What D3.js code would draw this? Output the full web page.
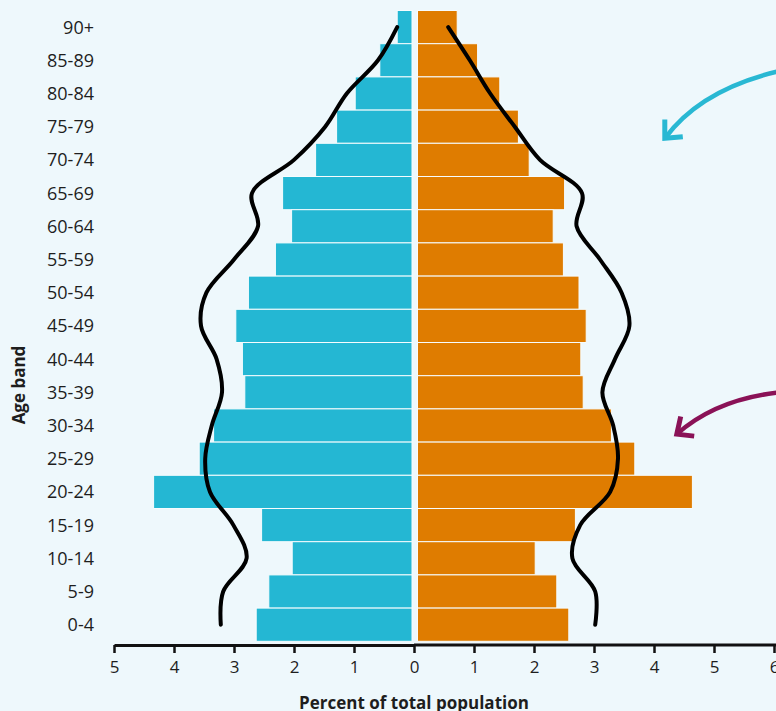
<!DOCTYPE html>
<html>
<head>
<meta charset="utf-8">
<script src="https://cdn.jsdelivr.net/npm/d3@7"></script>
<style>
  html, body { margin: 0; padding: 0; background: #eef8fc; }
  svg { display: block; }
  text { font-family: "Open Sans", "Noto Sans", sans-serif; fill: #1e1e1e; }
</style>
</head>
<body>
<svg id="chart" width="776" height="711"></svg>
<script>
// ---- data ----
const ageBands = ["90+","85-89","80-84","75-79","70-74","65-69","60-64","55-59","50-54","45-49","40-44","35-39","30-34","25-29","20-24","15-19","10-14","5-9","0-4"];
const leftValues  = [0.28,0.57,0.98,1.29,1.64,2.19,2.04,2.31,2.76,2.97,2.86,2.82,3.34,3.58,4.34,2.54,2.03,2.42,2.63];
const rightValues = [0.72,1.06,1.43,1.74,1.92,2.51,2.32,2.49,2.75,2.87,2.78,2.82,3.29,3.68,4.64,2.69,2.02,2.38,2.58];
const leftCompare  = [0.28,0.60,1.12,1.48,2.00,2.70,2.60,3.00,3.46,3.55,3.29,3.20,3.37,3.48,3.40,3.01,2.79,3.18,3.22];
const rightCompare = [0.57,0.93,1.27,1.68,2.10,2.80,2.71,3.10,3.46,3.59,3.35,3.14,3.32,3.40,3.27,2.77,2.64,3.02,3.02];
const leftTicks  = [5,4,3,2,1,0];
const rightTicks = [1,2,3,4,5,6];
const xTitle = "Percent of total population";
const yTitle = "Age band";

// ---- layout ----
const svg = d3.select("#chart");
const x0 = 414;
const xL = d3.scaleLinear().domain([0,5]).range([x0, 114]);
const xR = d3.scaleLinear().domain([0,6]).range([x0, 774]);
const y = d3.scaleBand().domain(ageBands).range([10.5, 641.3]).padding(0);
const axisY = 645;

const blue = "#24b7d3", orange = "#df7c00";
const gapL = 2, gapR = 3.5;

// bars
svg.append("g").selectAll("rect").data(ageBands).join("rect")
  .attr("x", (d,i) => xL(leftValues[i]))
  .attr("width", (d,i) => xL(0) - gapL - xL(leftValues[i]))
  .attr("y", d => y(d))
  .attr("height", y.bandwidth())
  .attr("fill", blue)
  .attr("stroke", "#f6fcfe").attr("stroke-width", 1);

svg.append("g").selectAll("rect").data(ageBands).join("rect")
  .attr("x", xR(0) + gapR)
  .attr("width", (d,i) => xR(rightValues[i]) - xR(0) - gapR)
  .attr("y", d => y(d))
  .attr("height", y.bandwidth())
  .attr("fill", orange)
  .attr("stroke", "#f6fcfe").attr("stroke-width", 1);

// comparison curves
const yc = d => y(d) + y.bandwidth()/2;
const lineL = d3.line().x((d,i) => xL(leftCompare[i])).y(d => yc(d)).curve(d3.curveCatmullRom.alpha(0.5));
const lineR = d3.line().x((d,i) => xR(rightCompare[i])).y(d => yc(d)).curve(d3.curveCatmullRom.alpha(0.5));
svg.append("path").attr("d", lineL(ageBands)).attr("fill","none").attr("stroke","#000").attr("stroke-width",4).attr("stroke-linecap","round").attr("stroke-linejoin","round");
svg.append("path").attr("d", lineR(ageBands)).attr("fill","none").attr("stroke","#000").attr("stroke-width",4).attr("stroke-linecap","round").attr("stroke-linejoin","round");

// age labels
svg.append("g").selectAll("text").data(ageBands).join("text")
  .attr("x", 94).attr("y", d => yc(d)).attr("dy", "0.36em")
  .attr("text-anchor", "end").style("font-size", "18px")
  .text(d => d);

// axes
const gAxL = svg.append("g").attr("transform", `translate(0,${axisY})`)
  .call(d3.axisBottom(xL).tickValues(leftTicks).tickFormat(d3.format("d")).tickSize(8).tickSizeOuter(0).tickPadding(8));
const gAxR = svg.append("g").attr("transform", `translate(0,${axisY})`)
  .call(d3.axisBottom(xR).tickValues(rightTicks).tickFormat(d3.format("d")).tickSize(8).tickSizeOuter(0).tickPadding(8));
[gAxL, gAxR].forEach(g => {
  g.select(".domain").attr("stroke", "#111").attr("stroke-width", 3);
  g.selectAll(".tick line").attr("stroke", "#111").attr("stroke-width", 2.5);
  g.selectAll(".tick text").style("font-size", "17px").style("font-family", "'Open Sans', sans-serif").attr("fill", "#1e1e1e");
});
gAxR.select(".domain").attr("d", `M${xR(0)},0H776`);

// titles
svg.append("text").attr("x", x0).attr("y", 703).attr("dy", "0.35em")
  .attr("text-anchor", "middle").style("font-size", "17px").style("font-weight", "700")
  .text(xTitle);
svg.append("text").attr("transform", `translate(19,${y("35-39") + y.bandwidth()*0.28}) rotate(-90)`)
  .attr("dy", "0.35em").attr("text-anchor", "middle")
  .style("font-size", "17px").style("font-weight", "700")
  .text(yTitle);

// annotation arrows (anchored in data units)
function arrow(color, start, ctrl, tip, arm1, arm2) {
  const p = d => [xR(d[0]), d[1]];
  const s = p(start), c = p(ctrl), t = p(tip), a1 = p(arm1), a2 = p(arm2);
  svg.append("path")
    .attr("d", `M${s[0]},${s[1]}Q${c[0]},${c[1]} ${t[0]},${t[1]}`)
    .attr("fill","none").attr("stroke",color).attr("stroke-width",4.5);
  svg.append("path")
    .attr("d", `M${a1[0]},${a1[1]}L${t[0]},${t[1]}L${a2[0]},${a2[1]}`)
    .attr("fill","none").attr("stroke",color).attr("stroke-width",5).attr("stroke-linejoin","miter");
}
const yOf = (band, f) => y(band) + y.bandwidth()*f;
arrow("#29b8d3",
  [6.05, yOf("85-89", 0.84)], [4.77, yOf("80-84", 0.4)], [4.18, yOf("75-79", 0.85)],
  [4.18, yOf("75-79", 0.28)], [4.48, yOf("75-79", 0.8)]);
arrow("#8a1257",
  [6.05, yOf("35-39", 0.51)], [5.02, yOf("35-39", 0.73)], [4.38, yOf("30-34", 0.76)],
  [4.445, yOf("30-34", 0.23)], [4.67, yOf("30-34", 0.82)]);
</script>
</body>
</html>
